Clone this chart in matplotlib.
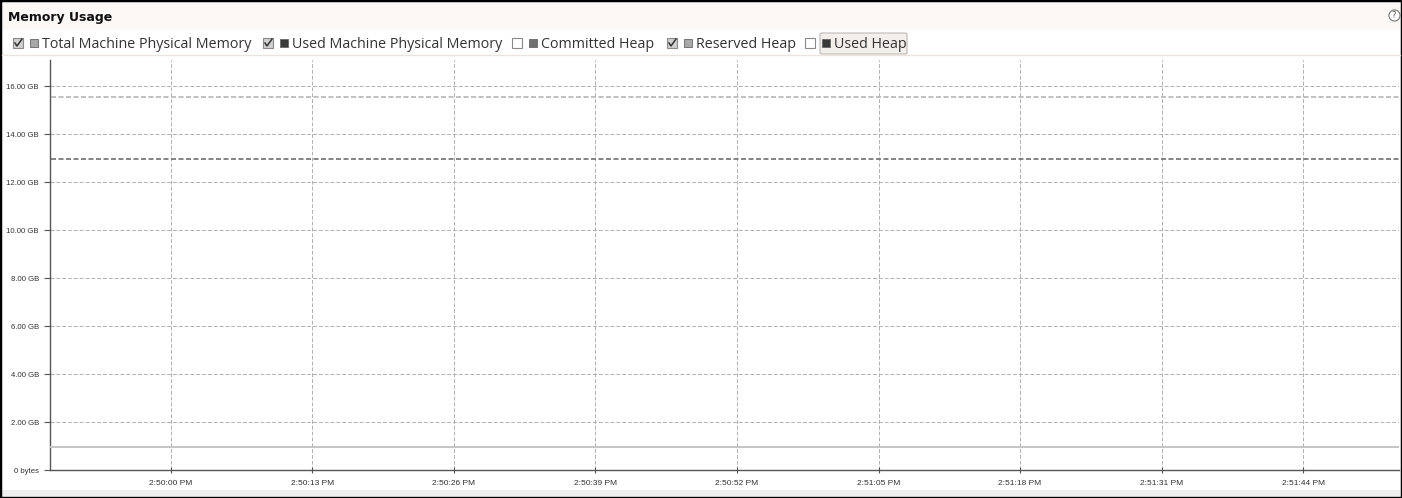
import matplotlib
matplotlib.use("Agg")
import matplotlib.pyplot as plt
from matplotlib.patches import Rectangle, FancyBboxPatch
from matplotlib.lines import Line2D

# Datos (segundos relativos a las 2:50:00 PM, valores en GB)
tiempos = [-11, 0, 13, 26, 39, 52, 65, 78, 91, 104, 113]
total_fisica = [15.55, 15.55, 15.55, 15.55, 15.55, 15.55, 15.55, 15.55, 15.55, 15.55, 15.55]
usada_fisica = [12.97, 12.97, 12.97, 12.97, 12.97, 12.97, 12.97, 12.97, 12.97, 12.97, 12.97]
heap_reservado = [0.97, 0.97, 0.97, 0.97, 0.97, 0.97, 0.97, 0.97, 0.97, 0.97, 0.97]

ticks_x = [0, 13, 26, 39, 52, 65, 78, 91, 104]
etiquetas_x = ["2:50:00 PM", "2:50:13 PM", "2:50:26 PM", "2:50:39 PM", "2:50:52 PM",
               "2:51:05 PM", "2:51:18 PM", "2:51:31 PM", "2:51:44 PM"]
ticks_y = [0, 2, 4, 6, 8, 10, 12, 14, 16]
etiquetas_y = ["0 bytes", "2.00 GB", "4.00 GB", "6.00 GB", "8.00 GB",
               "10.00 GB", "12.00 GB", "14.00 GB", "16.00 GB"]

series = ["Total Machine Physical Memory", "Used Machine Physical Memory",
          "Committed Heap", "Reserved Heap", "Used Heap"]
marcadas = [True, True, False, True, False]

W, H = 1402, 498

def fx(x):
    return x / W

def fy(y):
    return 1 - y / H

fig = plt.figure(figsize=(W / 100, H / 100), dpi=100)
fig.patch.set_facecolor("white")

# Banda del titulo
fig.add_artist(Rectangle((fx(2), fy(30)), fx(1398), 28 / H, transform=fig.transFigure,
                         facecolor="#fbf8f5", edgecolor="none"))
fig.text(fx(8), fy(17.5), "Memory Usage", fontsize=9, fontweight="bold",
         family="DejaVu Sans", va="center", ha="left", color="#111111")
fig.add_artist(Line2D([fx(1394)], [fy(15)], transform=fig.transFigure, marker="o",
                      markersize=8, markerfacecolor="white", markeredgecolor="#777777",
                      markeredgewidth=0.8, linestyle="none"))
fig.text(fx(1394), fy(15.5), "?", fontsize=6, ha="center", va="center", color="#555555")

# Leyenda con casillas
fila = 43
x_casillas = [18, 268, 517, 672, 810]
x_textos = [42, 292, 541, 696, 834]
colores_cuadro = ["#a8a8a8", "#3a3a3a", "#707070", "#a8a8a8", "#3a3a3a"]

fig.add_artist(FancyBboxPatch((fx(820), fy(54)), fx(87), 21 / H, transform=fig.transFigure,
                              boxstyle="round,pad=0,rounding_size=0.002",
                              facecolor="#f3efeb", edgecolor="#bdb8b3", linewidth=0.8))

for xc, xt, nombre, marca, col in zip(x_casillas, x_textos, series, marcadas, colores_cuadro):
    fig.add_artist(Rectangle((fx(xc - 5), fy(fila + 5)), 10 / W, 10 / H, transform=fig.transFigure,
                             facecolor="#d0d0d0" if marca else "white",
                             edgecolor="#8a8a8a", linewidth=0.8))
    if marca:
        fig.add_artist(Line2D([fx(xc - 3), fx(xc - 1), fx(xc + 4)],
                              [fy(fila), fy(fila + 3), fy(fila - 4)],
                              transform=fig.transFigure, color="#333333", linewidth=1.1))
    fig.add_artist(Rectangle((fx(xt - 12), fy(fila + 4)), 8 / W, 8 / H, transform=fig.transFigure,
                             facecolor=col, edgecolor="#666666", linewidth=0.6))
    fig.text(fx(xt), fy(fila + 1.5), nombre, fontsize=10.3, family="Open Sans",
             va="center", ha="left", color="#333333")

# Linea separadora
fig.add_artist(Line2D([fx(2), fx(1400)], [fy(55), fy(55)], transform=fig.transFigure,
                      color="#f0e2da", linewidth=1))

# Area de la grafica
ax = fig.add_axes([fx(50), fy(470), fx(1349), (470 - 60) / H])
ax.set_facecolor("white")

ax.plot(tiempos, total_fisica, color="#b5b5b5", linewidth=1.2, linestyle=(0, (3, 1.5)), zorder=3)
ax.plot(tiempos, usada_fisica, color="#707070", linewidth=1.2, linestyle=(0, (3, 1.5)), zorder=3)
ax.plot(tiempos, heap_reservado, color="#c4c4c4", linewidth=1.4, zorder=3)

ax.set_xlim(-11.1, 112.8)
ax.set_ylim(0, 17.1)
ax.set_xticks(ticks_x)
ax.set_xticklabels(etiquetas_x, fontsize=6, family="Liberation Sans", color="#333333")
ax.set_yticks(ticks_y)
ax.set_yticklabels(etiquetas_y, fontsize=5.6, family="Liberation Sans", color="#333333")
ax.tick_params(axis="both", length=4, width=0.8, color="#555555", pad=4)
ax.tick_params(axis="x", direction="inout", pad=5)

ax.grid(True, color="#b0b0b0", linestyle=(0, (4, 2)), linewidth=0.7)
ax.set_axisbelow(True)

for lado in ["top", "right"]:
    ax.spines[lado].set_visible(False)
for lado in ["left", "bottom"]:
    ax.spines[lado].set_color("#555555")
    ax.spines[lado].set_linewidth(1)

# Borde inferior claro y marco exterior
fig.add_artist(Rectangle((fx(2), fy(496)), fx(1398), 6 / H, transform=fig.transFigure,
                         facecolor="#eeeeee", edgecolor="none"))
fig.add_artist(Rectangle((0, 0), 1, 1, transform=fig.transFigure, facecolor="none",
                         edgecolor="black", linewidth=2.5))

fig.savefig("out.png", dpi=100)
